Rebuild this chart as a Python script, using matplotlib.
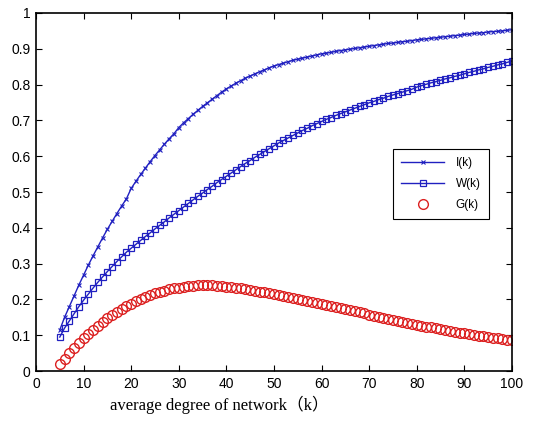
#!/usr/bin/env python

import numpy as np
import matplotlib
matplotlib.use("Agg")
import matplotlib.pyplot as plt

# average degree k = 5 .. 100
k = np.arange(5, 101)

I_k = [0.115, 0.150, 0.180, 0.210, 0.240, 0.268, 0.296, 0.322, 0.347, 0.372,
       0.396, 0.418, 0.440, 0.461, 0.481, 0.510, 0.530, 0.549, 0.567, 0.585,
       0.602, 0.618, 0.634, 0.649, 0.663, 0.680, 0.693, 0.705, 0.717, 0.728,
       0.739, 0.749, 0.759, 0.769, 0.779, 0.788, 0.796, 0.804, 0.811, 0.818,
       0.824, 0.830, 0.836, 0.841, 0.847, 0.852, 0.856, 0.860, 0.864, 0.868,
       0.871, 0.874, 0.877, 0.880, 0.883, 0.886, 0.888, 0.890, 0.893, 0.895,
       0.897, 0.899, 0.901, 0.903, 0.905, 0.907, 0.909, 0.911, 0.913, 0.915,
       0.916, 0.918, 0.920, 0.921, 0.923, 0.925, 0.926, 0.928, 0.929, 0.931,
       0.932, 0.934, 0.935, 0.937, 0.938, 0.940, 0.941, 0.943, 0.944, 0.945,
       0.947, 0.948, 0.949, 0.950, 0.952, 0.953]

W_k = [0.095, 0.120, 0.140, 0.160, 0.180, 0.198, 0.215, 0.232, 0.248, 0.263,
       0.278, 0.292, 0.306, 0.319, 0.332, 0.343, 0.354, 0.365, 0.376, 0.386,
       0.397, 0.407, 0.417, 0.428, 0.438, 0.448, 0.458, 0.468, 0.478, 0.488,
       0.497, 0.507, 0.516, 0.526, 0.535, 0.544, 0.553, 0.562, 0.571, 0.580,
       0.588, 0.597, 0.605, 0.613, 0.621, 0.629, 0.637, 0.644, 0.651, 0.658,
       0.665, 0.672, 0.678, 0.685, 0.691, 0.697, 0.703, 0.708, 0.714, 0.719,
       0.724, 0.729, 0.734, 0.739, 0.744, 0.749, 0.753, 0.758, 0.762, 0.767,
       0.771, 0.775, 0.779, 0.783, 0.787, 0.793, 0.797, 0.801, 0.805, 0.808,
       0.812, 0.816, 0.819, 0.823, 0.826, 0.830, 0.834, 0.837, 0.841, 0.844,
       0.848, 0.851, 0.855, 0.858, 0.862, 0.866]

G_k = [0.020, 0.035, 0.050, 0.064, 0.078, 0.091, 0.103, 0.115, 0.126, 0.137,
       0.147, 0.156, 0.165, 0.173, 0.181, 0.188, 0.195, 0.201, 0.207, 0.212,
       0.217, 0.221, 0.225, 0.228, 0.231, 0.233, 0.235, 0.237, 0.238, 0.239,
       0.239, 0.239, 0.239, 0.238, 0.237, 0.236, 0.234, 0.233, 0.231, 0.229,
       0.227, 0.225, 0.222, 0.220, 0.218, 0.215, 0.213, 0.210, 0.207, 0.205,
       0.202, 0.199, 0.196, 0.193, 0.191, 0.188, 0.185, 0.182, 0.179, 0.176,
       0.173, 0.170, 0.167, 0.164, 0.161, 0.158, 0.155, 0.152, 0.149, 0.146,
       0.143, 0.141, 0.138, 0.135, 0.132, 0.130, 0.127, 0.124, 0.122, 0.119,
       0.117, 0.114, 0.112, 0.110, 0.107, 0.105, 0.103, 0.101, 0.099, 0.097,
       0.095, 0.093, 0.091, 0.089, 0.087, 0.086]

xticks = np.arange(0, 101, 10)
yticks = [0, 0.1, 0.2, 0.3, 0.4, 0.5, 0.6, 0.7, 0.8, 0.9, 1]
ytick_labels = ["0", "0.1", "0.2", "0.3", "0.4", "0.5", "0.6", "0.7", "0.8", "0.9", "1"]

plt.rcParams['font.family'] = ['Liberation Sans', 'DejaVu Sans']

fig = plt.figure(figsize=(5.42, 4.33), dpi=100)
ax = fig.add_axes([0.0664, 0.143, 0.878, 0.827])

blue = '#2020c0'
red = '#dc2020'

ax.plot(k, I_k, '-', color=blue, lw=1.0, marker='x', ms=3.5, mew=0.8, label='I(k)')
ax.plot(k, W_k, '-', color=blue, lw=1.0, marker='s', ms=4.2, mew=0.9,
        mfc='none', label='W(k)')
ax.plot(k, G_k, 'o', color=red, ms=7, mew=1.0, mfc='none', label='G(k)')

ax.set_xlim(0, 100)
ax.set_ylim(0, 1)
ax.set_xticks(xticks)
ax.set_yticks(yticks)
ax.set_yticklabels(ytick_labels)
ax.tick_params(direction='in', length=4, width=0.8, top=True, right=True,
               labelsize=10, pad=4)
for sp in ax.spines.values():
    sp.set_linewidth(1.2)

# legend box sits at about (393, 149) px in the reference
leg = ax.legend(loc='upper left', bbox_to_anchor=(393 / 542, 1 - 149 / 433),
                bbox_transform=fig.transFigure, borderaxespad=0,
                fontsize=8.5, frameon=True, fancybox=False, edgecolor='black',
                framealpha=1, handlelength=3.6, borderpad=0.7,
                labelspacing=0.75, handletextpad=1.0)
leg.get_frame().set_linewidth(0.8)

fig.text(110 / 542, 1 - 405 / 433, "average degree of network（k）",
         family=['Liberation Serif', 'Noto Sans CJK SC'], fontsize=12,
         ha='left', va='center')

fig.savefig("out.png", dpi=100)
